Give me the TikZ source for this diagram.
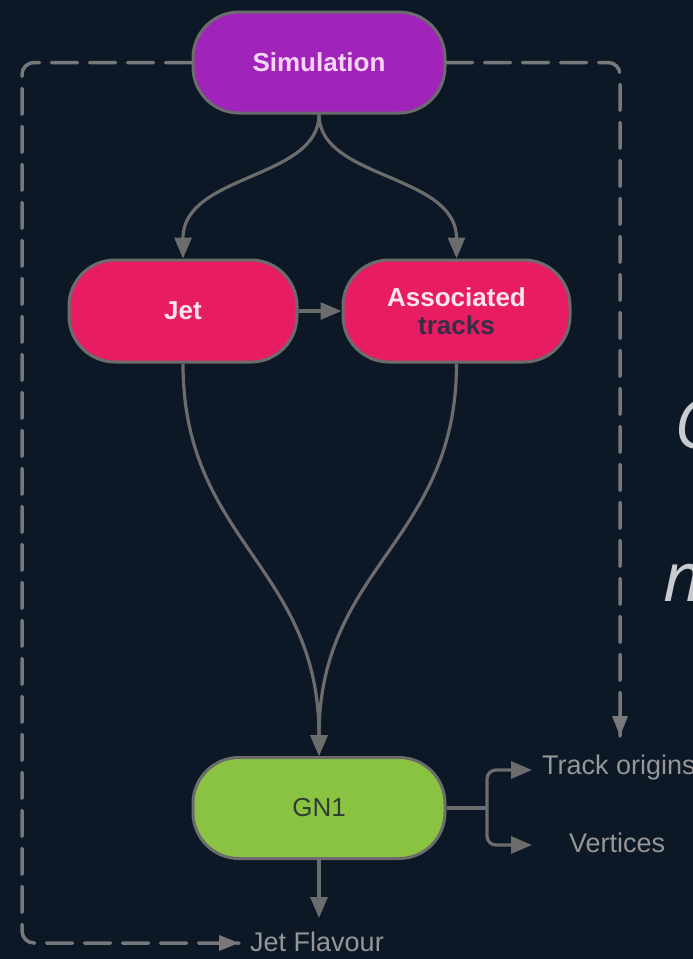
\documentclass[tikz,border=0pt]{standalone}
\usepackage{fontspec}
\setmainfont{Liberation Sans}
\newfontfamily\ghostfont{Open Sans}
\usetikzlibrary{arrows.meta}
\definecolor{bg}{RGB}{13,24,38}
\definecolor{simc}{RGB}{160,36,185}
\definecolor{jetc}{RGB}{232,28,98}
\definecolor{gnc}{RGB}{138,195,66}
\definecolor{edgec}{RGB}{108,108,108}
\definecolor{dashc}{RGB}{120,120,122}
\definecolor{lblc}{RGB}{150,150,150}
\definecolor{ghost}{RGB}{200,204,208}
\definecolor{simtxt}{RGB}{246,212,246}
\definecolor{jettxt}{RGB}{252,228,236}
\definecolor{darktxt}{RGB}{55,45,68}
\definecolor{gntxt}{RGB}{48,62,50}
\tikzset{
  pill/.style={draw=edgec, line width=3pt, rounded corners=46pt, inner sep=0pt, align=center,
    font=\fontsize{26}{30}\selectfont\bfseries},
  conn/.style={draw=edgec, line width=3.2pt, -{Triangle[length=21pt,width=17pt]}},
  dashline/.style={draw=dashc, line width=3.5pt, dash pattern=on 26pt off 12pt, line cap=round},
  lbl/.style={inner sep=0pt, text=lblc, font=\fontsize{27}{30}\selectfont},
}
\begin{document}
\begin{tikzpicture}[x=1pt,y=-1pt]
\useasboundingbox (0,0) rectangle (693,959);
\fill[bg] (0,0) rectangle (693,959);
\clip (0,0) rectangle (693,959);

% ghost text fragments at right edge (cut off by the picture's edge, as in the reference)
\node[anchor=base west, inner sep=0pt, text=ghost, font=\ghostfont\itshape\fontsize{68}{70}\selectfont] (g1) at (674,448) {C};
\node[anchor=base west, inner sep=0pt, text=ghost, font=\ghostfont\itshape\fontsize{68}{70}\selectfont] (g2) at (663,601) {n};

% nodes
\node[pill, fill=simc, text=simtxt, minimum width=252pt, minimum height=101pt] (sim) at (319,62.5) {Simulation};
\node[pill, fill=jetc, text=jettxt, minimum width=228pt, minimum height=102pt] (jet) at (183,311) {Jet};
\node[pill, fill=jetc, text=jettxt, minimum width=227pt, minimum height=102pt] (assoc) at (456.5,311) {Associated\\[-2pt]\textcolor{darktxt}{tracks}};
\node[pill, fill=gnc, text=gntxt, font=\fontsize{26}{30}\selectfont, minimum width=252pt, minimum height=101pt] (gn) at (319,808) {GN1};

\node[lbl, anchor=west] (tro) at (542,768) {Track origins};
\node[lbl, anchor=west] (vtx) at (569,843) {Vertices};
\node[lbl] (jfl) at (317,942) {Jet Flavour};

\coordinate (trotip) at (532,770);
\coordinate (vtxtip) at (532,845);
\coordinate (br) at (487,808);
\coordinate (jftip) at (319,918);
\coordinate (rtip) at (620,736);
\coordinate (lcorner) at (22,943);
\coordinate (ltip) at (239,943);

% dashed feedback lines
\draw[dashline, rounded corners=12pt] (sim.east) -| (rtip);
\draw[dashline, rounded corners=12pt] (sim.west) -| (lcorner) -- (ltip);
\fill[dashc] (rtip) -- ++(-8,-20) -- ++(16,0) -- cycle;
\fill[dashc] (ltip) -- ++(-20,-8) -- ++(0,16) -- cycle;

% main connectors
\draw[conn] (sim.south) .. controls +(0,65) and +(0,-85) .. (jet.north);
\draw[conn] (sim.south) .. controls +(0,65) and +(0,-85) .. (assoc.north);
\draw[conn] (jet.east) -- (assoc.west);
\draw[conn] (jet.south) .. controls +(0,178) and +(0,-190) .. (gn.north);
\draw[conn] (assoc.south) .. controls +(0,178) and +(0,-190) .. (gn.north);
\draw[conn] (gn.south) -- (jftip);
\draw[draw=edgec, line width=3.2pt] (gn.east) -- (br);
\draw[conn, rounded corners=9pt] (br) |- (trotip);
\draw[conn, rounded corners=9pt] (br) |- (vtxtip);
\end{tikzpicture}
\end{document}
